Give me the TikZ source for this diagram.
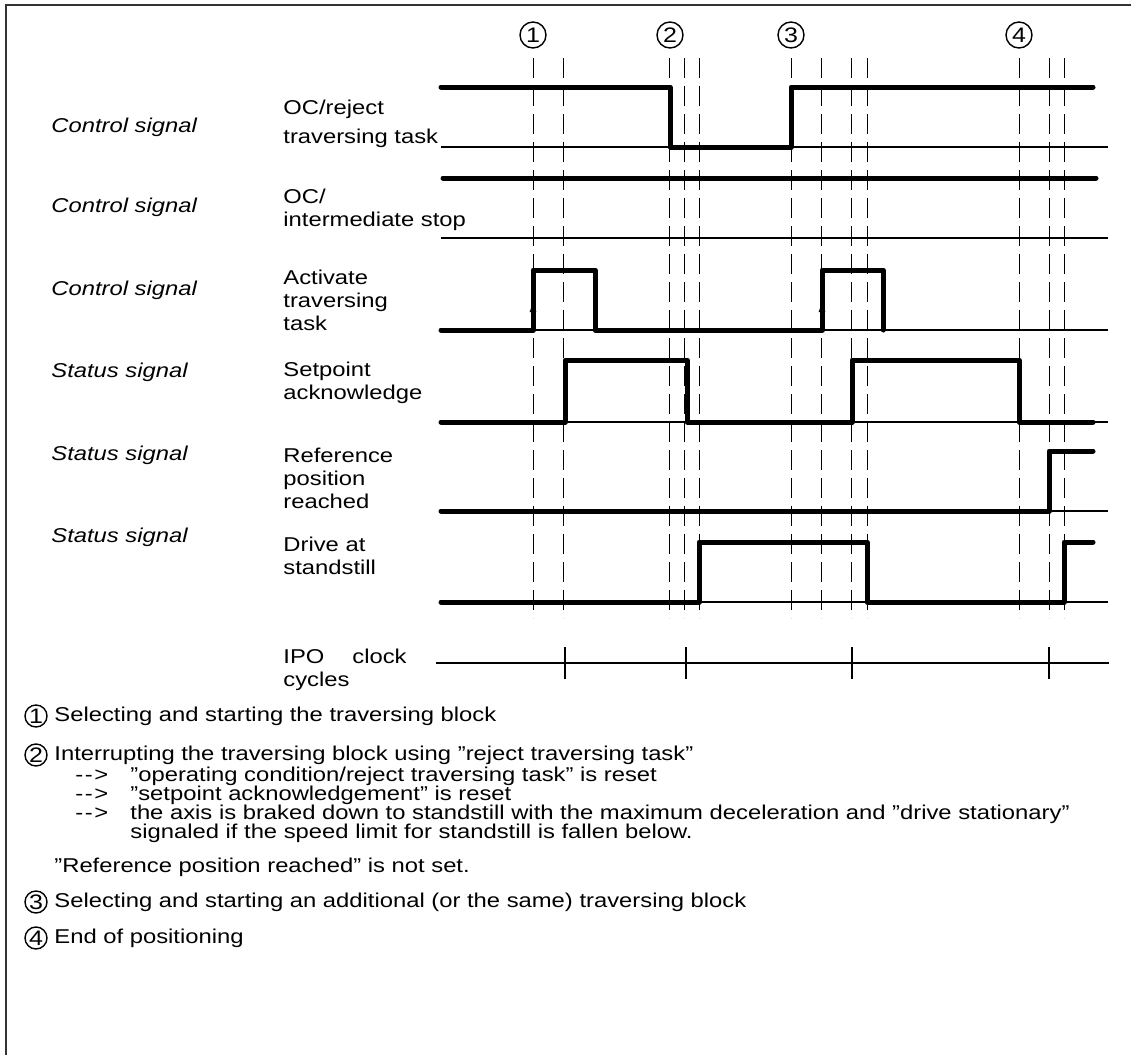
\documentclass[tikz,border=0pt]{standalone}
\usepackage{fontspec}
\setmainfont{Liberation Sans}[FakeStretch=1.19]
\usetikzlibrary{arrows.meta}
\newcommand{\dashto}{-\kern0.8pt-\kern0.8pt>}

\begin{document}
\begin{tikzpicture}[x=0.5pt, y=-0.5pt,
  txt/.style={inner sep=0pt, anchor=west, align=left, font=\fontsize{10}{11.5}\selectfont},
  kind/.style={txt, font=\fontsize{10}{11.5}\selectfont\itshape},
  level/.style={line width=2.5pt, line cap=round, line join=round},
  base/.style={line width=0.7pt},
  marker/.style={line width=0.5pt, dash pattern=on 10pt off 4pt},
  num/.style={circle, draw, line width=0.7pt, minimum size=13pt, inner sep=0pt,
              font=\fontsize{10.5}{12}\selectfont},
  key/.style={num, minimum size=11pt},
  edge/.style={-{Latex[length=6pt, width=3.5pt]}, line width=1pt}
]
\useasboundingbox (0,0) rectangle (1131,1055);

% frame
\draw[line width=0.8pt, black!80] (6,1055) -- (6,5) -- (1131,5);

% event markers
\foreach \x/\n in {533/1, 670/2, 791/3, 1019/4}
  \node[num] (ev\n) at (\x,35) {\n};
\foreach \x in {533,563,669,684,699,791,821,851,867,1019,1049,1064}
  \draw[marker] (\x,58) -- (\x,618);

% signal kinds (left)
\node[kind] (kind1) at (51,127) {Control signal};
\node[kind] (kind2) at (51,207) {Control signal};
\node[kind] (kind3) at (51,290) {Control signal};
\node[kind] (kind4) at (51,372) {Status signal};
\node[kind] (kind5) at (51,455) {Status signal};
\node[kind] (kind6) at (51,537) {Status signal};

% signal names
\node[txt] (sig1) at (283,124) {OC/reject\\[3pt]traversing task};
\node[txt] (sig2) at (283,210) {OC/\\intermediate stop};
\node[txt] (sig3) at (283,300) {Activate\\traversing\\task};
\node[txt] (sig4) at (283,383) {Setpoint\\acknowledge};
\node[txt] (sig5) at (283,478) {Reference\\position\\reached};
\node[txt] (sig6) at (283,556) {Drive at\\standstill};
\node[txt] (ipo)  at (283,670) {IPO\hspace{14pt}clock\\cycles};

% zero lines
\foreach \y in {147,238,330,422,511,602}
  \draw[base] (441,\y) -- (1108,\y);

% OC/reject traversing task
\draw[level] (441,87) -- (670,87) -- (670,147) -- (791,147) -- (791,87) -- (1093,87);
% OC/intermediate stop
\draw[level] (443,178) -- (1096,178);
% activate traversing task
\draw[level] (441,330) -- (533,330) -- (533,270) -- (595,270) -- (595,330)
  -- (822,330) -- (822,270) -- (883,270) -- (883,330);
\draw[edge] (533,330) -- (533,300);
\draw[edge] (822,330) -- (822,300);
% setpoint acknowledge
\draw[level] (441,422) -- (565,422) -- (565,360) -- (687,360) -- (687,422)
  -- (852,422) -- (852,360) -- (1019,360) -- (1019,422) -- (1093,422);
% reference position reached
\draw[level] (441,511) -- (1049,511) -- (1049,451) -- (1093,451);
% drive at standstill
\draw[level] (441,602) -- (699,602) -- (699,542) -- (867,542) -- (867,602)
  -- (1064,602) -- (1064,542) -- (1093,542);

% IPO clock cycles
\draw[base] (436,663) -- (1109,663);
\foreach \x in {565,686,852,1049}
  \draw[base] (\x,647) -- (\x,679);

% legend
\node[key] (key1) at (36,716) {1};
\node[txt] (desc1) at (54,716) {Selecting and starting the traversing block};
\node[key] (key2) at (36,755) {2};
\node[txt] (desc2) at (54,755) {Interrupting the traversing block using ”reject traversing task”};
\node[txt] (arr1) at (75,776) {\dashto};
\node[txt] (sub1) at (130,776) {”operating condition/reject traversing task” is reset};
\node[txt] (arr2) at (75,795) {\dashto};
\node[txt] (sub2) at (130,795) {”setpoint acknowledgement” is reset};
\node[txt] (arr3) at (75,814) {\dashto};
\node[txt] (sub3) at (130,814) {the axis is braked down to standstill with the maximum deceleration and ”drive stationary”};
\node[txt] (sub4) at (130,833) {signaled if the speed limit for standstill is fallen below.};
\node[txt] (note) at (54,867) {”Reference position reached” is not set.};
\node[key] (key3) at (36,902) {3};
\node[txt] (desc3) at (54,902) {Selecting and starting an additional (or the same) traversing block};
\node[key] (key4) at (36,938) {4};
\node[txt] (desc4) at (54,938) {End of positioning};

\end{tikzpicture}
\end{document}
